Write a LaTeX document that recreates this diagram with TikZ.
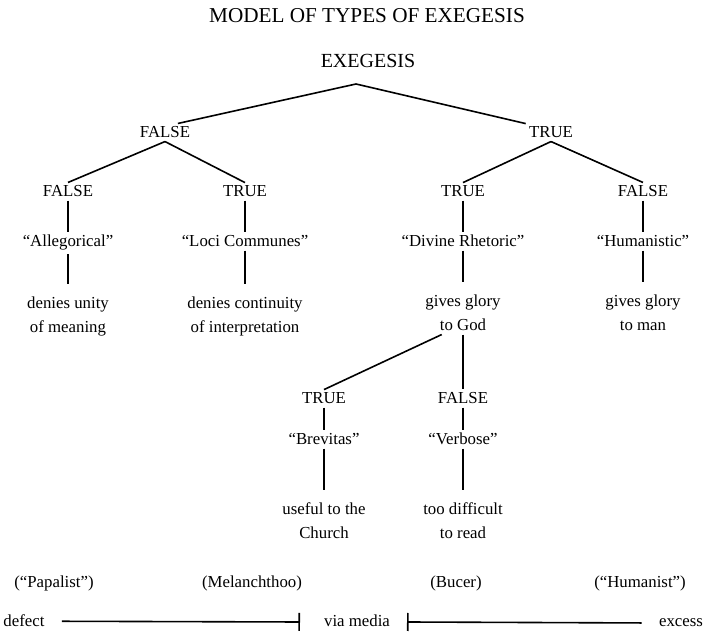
\documentclass[tikz,border=0pt]{standalone}
\usepackage{fontspec}
\setmainfont{Liberation Serif}
\usetikzlibrary{arrows.meta}

\tikzset{
  lbl/.style={inner sep=1.5pt, anchor=base, font=\fontsize{8.4}{12}\selectfont},
  desc/.style={lbl, align=center},
  link/.style={line width=0.8pt},
  intodesc/.style={link, shorten >=5pt},
}

\begin{document}
\begin{tikzpicture}[x=0.5pt,y=-0.5pt]
  \useasboundingbox (0,0) rectangle (708,635);

  \node[lbl,font=\fontsize{10.6}{13}\selectfont] (title) at (367,23) {MODEL OF TYPES OF EXEGESIS};
  \node[lbl,font=\fontsize{10}{12}\selectfont] (root) at (368,68) {EXEGESIS};
  \coordinate (apex) at (356,84);

  % first split
  \node[lbl] (f1) at (165,138) {FALSE};
  \node[lbl] (t1) at (551,138) {TRUE};
  \draw[link] (f1.35) -- (apex) -- (t1.north west);

  % second split
  \node[lbl] (f2) at (68,197) {FALSE};
  \node[lbl] (t2) at (245,197) {TRUE};
  \node[lbl] (t3) at (463,197) {TRUE};
  \node[lbl] (f3) at (643,197) {FALSE};
  \draw[link] (f1.south) -- (f2.north);
  \draw[link] (f1.south) -- (t2.north);
  \draw[link] (t1.south) -- (t3.north);
  \draw[link] (t1.south) -- (f3.north);

  \node[lbl] (alle) at (68,247) {“Allegorical”};
  \node[lbl] (loci) at (245,247) {“Loci Communes”};
  \node[lbl] (divine) at (463,247) {“Divine Rhetoric”};
  \node[lbl] (human) at (643,247) {“Humanistic”};
  \draw[link] (f2.south) -- (alle.north);
  \draw[link] (t2.south) -- (loci.north);
  \draw[link] (t3.south) -- (divine.north);
  \draw[link] (f3.south) -- (human.north);

  % base sits on the second line
  \node[desc] (unity) at (68,333) {denies unity\\of meaning};
  \node[desc] (cont) at (245,333) {denies continuity\\of interpretation};
  \node[desc] (god) at (463,331) {gives glory\\to God};
  \node[desc] (man) at (643,331) {gives glory\\to man};
  \draw[intodesc] (alle.south) -- (unity.north);
  \draw[intodesc] (loci.south) -- (cont.north);
  \draw[intodesc] (divine.south) -- (god.north);
  \draw[intodesc] (human.south) -- (man.north);

  % third split
  \node[lbl] (t5) at (324,404) {TRUE};
  \node[lbl] (f5) at (463,404) {FALSE};
  \draw[link] (god.225) -- (t5.north);
  \draw[link] (god.south) -- (f5.north);

  \node[lbl] (brev) at (324,445) {“Brevitas”};
  \node[lbl] (verb) at (463,445) {“Verbose”};
  \draw[link] (t5.south) -- (brev.north);
  \draw[link] (f5.south) -- (verb.north);

  \node[desc] (church) at (324,539) {useful to the\\Church};
  \node[desc] (read) at (463,539) {too difficult\\to read};
  \draw[intodesc] (brev.south) -- (church.north);
  \draw[intodesc] (verb.south) -- (read.north);

  % scale along the bottom
  \node[lbl] (pap) at (54,588) {(“Papalist”)};
  \node[lbl] (mel) at (252,588) {(Melanchthoo)};
  \node[lbl] (bucer) at (456,588) {(Bucer)};
  \node[lbl] (hum) at (640,588) {(“Humanist”)};

  \node[lbl] (defect) at (24,627) {defect};
  \node[lbl] (via) at (357,627) {via media};
  \node[lbl] (excess) at (681,627) {excess};
  \coordinate (lbar) at (300,622);
  \coordinate (rbar) at (407,622);
  \draw[link,-{Bar[width=9pt]},shorten <=7pt] (defect) -- (lbar);
  \draw[link,{Bar[width=9pt]}-,shorten >=7pt] (rbar) -- (excess);
\end{tikzpicture}
\end{document}
